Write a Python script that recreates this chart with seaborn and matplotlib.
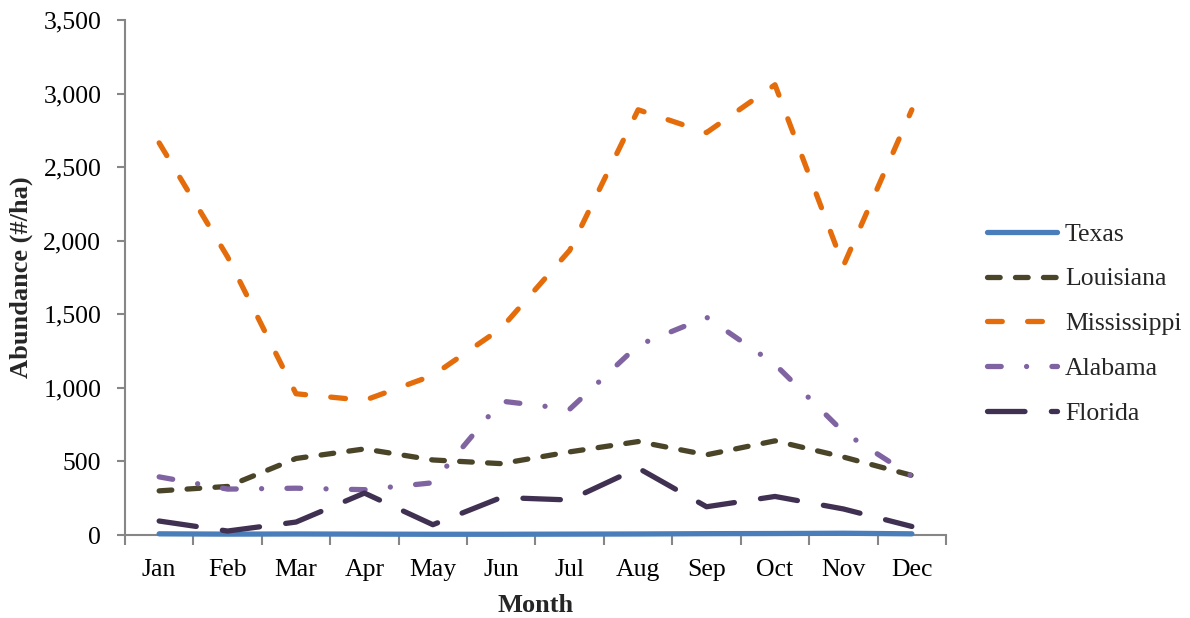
import matplotlib
matplotlib.use("Agg")
import matplotlib.pyplot as plt
import matplotlib.ticker as mticker
import numpy as np
import pandas as pd
import seaborn as sns

# Monthly abundance (#/ha) by state
months = ["Jan", "Feb", "Mar", "Apr", "May", "Jun",
          "Jul", "Aug", "Sep", "Oct", "Nov", "Dec"]
states = ["Texas", "Louisiana", "Mississippi", "Alabama", "Florida"]

texas = [8, 6, 7, 6, 5, 5, 6, 7, 9, 10, 12, 8]
louisiana = [300, 330, 520, 585, 510, 485, 565, 635, 545, 640, 530, 405]
mississippi = [2665, 1890, 960, 915, 1085, 1405, 1935, 2890, 2735, 3060, 1830, 2890]
alabama = [395, 312, 318, 308, 355, 910, 855, 1290, 1480, 1160, 700, 400]
florida = [95, 27, 88, 285, 70, 255, 238, 455, 192, 262, 177, 58]

values = [texas, louisiana, mississippi, alabama, florida]

colors = {
    "Texas": "#4A7EBB",
    "Louisiana": "#4A4529",
    "Mississippi": "#E46C0A",
    "Alabama": "#8064A2",
    "Florida": "#403152",
}
# dash patterns in units of line width
dash_styles = {
    "Texas": "",
    "Louisiana": (2.4, 2.9),
    "Mississippi": (2.8, 4.8),
    "Alabama": (2.6, 4.8, 0.01, 4.8),
    "Florida": (7.1, 5.0),
}
LW = 3.8

df = pd.DataFrame({
    "Month": np.tile(months, len(states)),
    "x": np.tile(np.arange(len(months)), len(states)),
    "State": np.repeat(states, len(months)),
    "Abundance": np.concatenate(values),
})

sns.set_theme(style="white")
plt.rcParams["font.family"] = ["Liberation Serif", "DejaVu Serif"]
plt.rcParams["lines.dash_capstyle"] = "round"
plt.rcParams["lines.solid_capstyle"] = "round"

fig = plt.figure(figsize=(11.9, 6.18), dpi=100)
ax = fig.add_axes([0.105, 0.1343, 0.69, 0.8333])

sns.lineplot(
    data=df, x="x", y="Abundance", hue="State", style="State",
    hue_order=states, style_order=states,
    palette=colors, dashes=dash_styles, linewidth=LW,
    ax=ax, legend=True,
)
# series sit on top of the axis line, the near-zero one included
for line in ax.get_lines():
    line.set_clip_on(False)
    line.set_zorder(3)

axis_gray = "#868686"
ax.set_xlim(-0.5, 11.5)
ax.set_ylim(0, 3500)
ax.yaxis.set_major_locator(mticker.MultipleLocator(500))
ax.yaxis.set_major_formatter(mticker.FuncFormatter(lambda v, p: f"{int(v):,}"))

ax.set_xticks(np.arange(len(months)))
ax.set_xticklabels(months)
ax.set_xticks(np.arange(-0.5, 12, 1), minor=True)
ax.tick_params(axis="x", which="major", length=0, pad=17.5, labelsize=18.5,
               colors="black")
ax.tick_params(axis="x", which="minor", length=7, width=1.5, color=axis_gray,
               direction="out", bottom=True)
ax.tick_params(axis="y", which="major", length=6, width=1.5, color=axis_gray,
               direction="out", pad=11, labelsize=18.5, labelcolor="black",
               left=True)

for side in ["top", "right"]:
    ax.spines[side].set_visible(False)
for side in ["left", "bottom"]:
    ax.spines[side].set_color(axis_gray)
    ax.spines[side].set_linewidth(1.5)
    ax.spines[side].set_zorder(2)

ax.set_xlabel("Month", fontsize=19, fontweight="bold")
ax.set_ylabel("Abundance (#/ha)", fontsize=19, fontweight="bold")
ax.xaxis.set_label_coords(0.5, -0.115)
ax.yaxis.set_label_coords(-0.112, 0.5)
ax.grid(False)

handles, labels = ax.get_legend_handles_labels()
leg = ax.legend(
    handles, labels, loc="center left",
    bbox_to_anchor=(0.829, 0.476), bbox_transform=fig.transFigure,
    frameon=False, fontsize=18.5, handlelength=2.75, handletextpad=0.3,
    labelspacing=0.85, borderpad=0, borderaxespad=0,
)
for line in leg.get_lines():
    line.set_linewidth(LW)

fig.savefig("out.png", dpi=100)
